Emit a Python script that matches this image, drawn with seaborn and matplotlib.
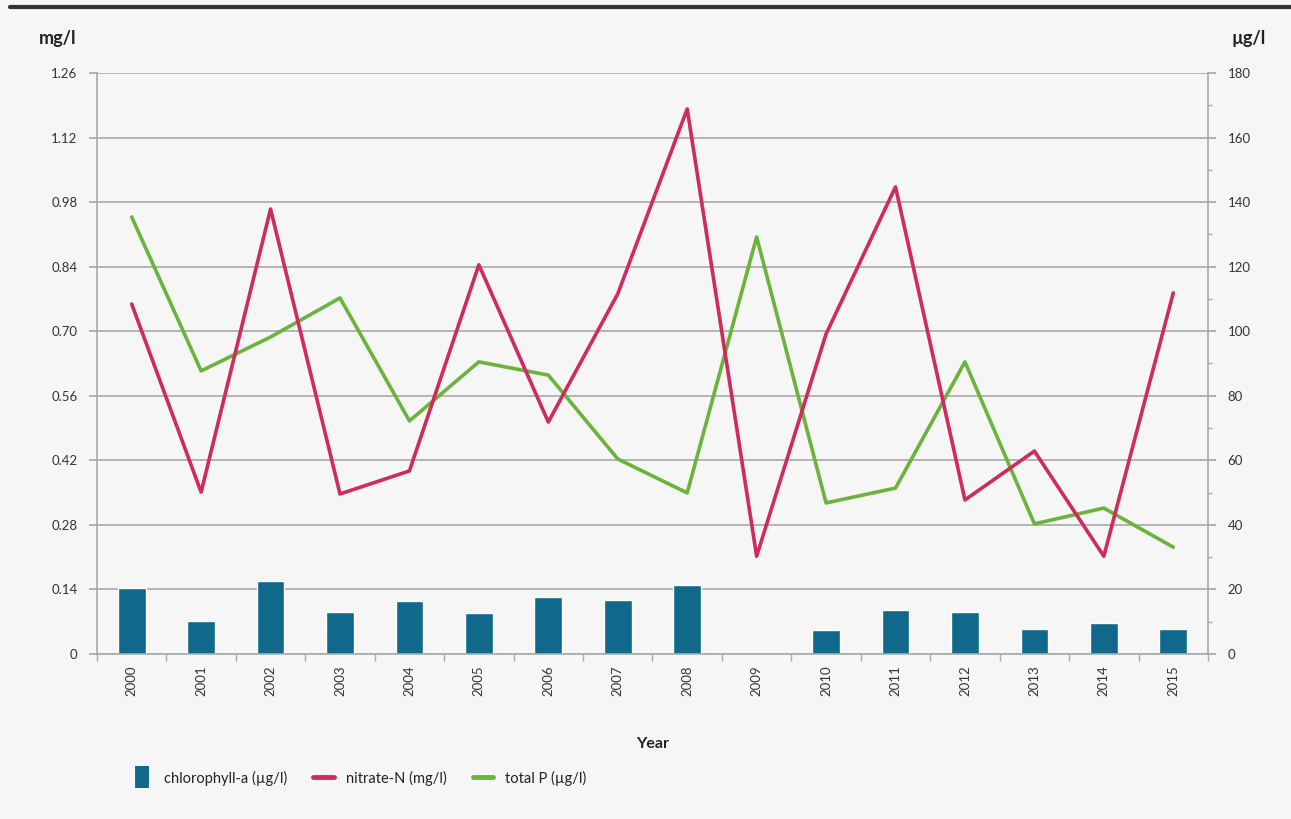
import numpy as np
import pandas as pd
import matplotlib
matplotlib.use("Agg")
import matplotlib.pyplot as plt
from matplotlib.lines import Line2D
from matplotlib.ticker import MultipleLocator, FixedLocator
import seaborn as sns

years = ["2000", "2001", "2002", "2003", "2004", "2005", "2006", "2007",
         "2008", "2009", "2010", "2011", "2012", "2013", "2014", "2015"]
chlorophyll = [20.4, 10.2, 22.6, 13.0, 16.4, 12.7, 17.7, 16.7,
               21.4, np.nan, 7.4, 13.6, 13.0, 7.7, 9.6, 7.7]
nitrate = [0.759, 0.351, 0.965, 0.347, 0.397, 0.844, 0.503, 0.781,
           1.182, 0.212, 0.694, 1.013, 0.334, 0.440, 0.212, 0.783]
total_p = [135.4, 87.7, 98.2, 110.3, 72.2, 90.5, 86.4, 60.4,
           49.9, 129.2, 46.8, 51.4, 90.5, 40.3, 45.2, 33.1]
left_ticks = [0, 0.14, 0.28, 0.42, 0.56, 0.70, 0.84, 0.98, 1.12, 1.26]
left_labels = ["0", "0.14", "0.28", "0.42", "0.56", "0.70", "0.84", "0.98", "1.12", "1.26"]
right_ticks = [0, 20, 40, 60, 80, 100, 120, 140, 160, 180]

df = pd.DataFrame({"year": years, "chl": chlorophyll, "no3": nitrate, "tp": total_p})
df["pos"] = np.arange(len(years))

sns.set_theme(style="white")
plt.rcParams["font.family"] = ["Lato", "DejaVu Sans"]

BAR = "#10688a"
RED = "#cf2b5c"
GREEN = "#6bb43b"
BG = "#f6f6f6"
GRIDC = "#a8a8a8"
TXT = "#333333"

fig = plt.figure(figsize=(12.91, 8.19), dpi=100, facecolor=BG)
ax = fig.add_axes([0.0751, 0.2015, 0.8606, 0.7094], facecolor=BG)
ax2 = ax.twinx()

sns.barplot(data=df, x="year", y="chl", color=BAR, width=0.4, ax=ax,
            saturation=1, zorder=2)
sns.lineplot(data=df, x="pos", y="tp", color=GREEN, linewidth=2.6, ax=ax, zorder=3)
sns.lineplot(data=df, x="pos", y="no3", color=RED, linewidth=2.6, ax=ax2, zorder=3)

# right axis: µg/l (bars and total P)
ax.set_xlim(-0.5, len(years) - 0.5)
ax.set_ylim(0, 180)
ax.yaxis.set_major_locator(FixedLocator(right_ticks))
ax.yaxis.set_minor_locator(MultipleLocator(10))
ax.yaxis.tick_right()
ax.set_ylabel("")
ax.set_xlabel("Year", fontsize=11.5, fontweight="bold", labelpad=30, color="#222222")
ax.set_xticks(df["pos"])
ax.set_xticklabels(years, rotation=90, fontsize=9.5, color=TXT)
ax.xaxis.set_minor_locator(FixedLocator(np.arange(-0.5, len(years), 1.0)))
ax.tick_params(axis="x", which="major", length=0, pad=8)
ax.tick_params(axis="x", which="minor", length=5, color=GRIDC, direction="out", bottom=True)
ax.tick_params(axis="y", which="major", length=6, color=GRIDC, labelsize=9.5,
               labelcolor=TXT, right=True, left=False, labelright=True,
               labelleft=False, pad=8)
ax.tick_params(axis="y", which="minor", length=3, color=GRIDC, right=True, left=False)
ax.grid(axis="y", which="major", color=GRIDC, linewidth=1.2, zorder=0)
ax.set_axisbelow(True)
for s in ["left", "right", "bottom"]:
    ax.spines[s].set_color(GRIDC)
    ax.spines[s].set_linewidth(1.2)
ax.spines["top"].set_visible(False)

# left axis: mg/l (nitrate)
ax2.set_ylim(0, 1.26)
ax2.yaxis.tick_left()
ax2.set_yticks(left_ticks)
ax2.set_yticklabels(left_labels)
ax2.set_ylabel("")
ax2.set_xlabel("")
ax2.tick_params(axis="y", length=6, color=GRIDC, labelsize=9.5, labelcolor=TXT,
                left=True, right=False, labelleft=True, labelright=False, pad=8)
for s in ["top", "right", "left", "bottom"]:
    ax2.spines[s].set_visible(False)
ax2.set_xlim(-0.5, len(years) - 0.5)

fig.text(0.045, 0.953, "mg/l", fontsize=13, fontweight="bold", ha="center", va="center",
         color="#222222")
fig.text(0.967, 0.953, "µg/l", fontsize=13, fontweight="bold", ha="center", va="center",
         color="#222222")

fig.add_artist(Line2D([0.008, 1.0], [0.992, 0.992], color="#333333", linewidth=3,
                      transform=fig.transFigure))

handles = [Line2D([0], [0], color=BAR, linestyle="none", marker="|",
                  markersize=16, markeredgewidth=10),
           Line2D([0], [0], color=RED, linewidth=3.5),
           Line2D([0], [0], color=GREEN, linewidth=3.5)]
labels = ["chlorophyll-a (µg/l)", "nitrate-N (mg/l)", "total P (µg/l)"]
fig.legend(handles, labels, loc="center left", bbox_to_anchor=(0.092, 0.05),
           ncol=3, frameon=False, fontsize=10.5, handlelength=1.4,
           columnspacing=1.8, handletextpad=0.8, labelcolor="#222222")

fig.savefig("out.png", dpi=100, facecolor=BG)
